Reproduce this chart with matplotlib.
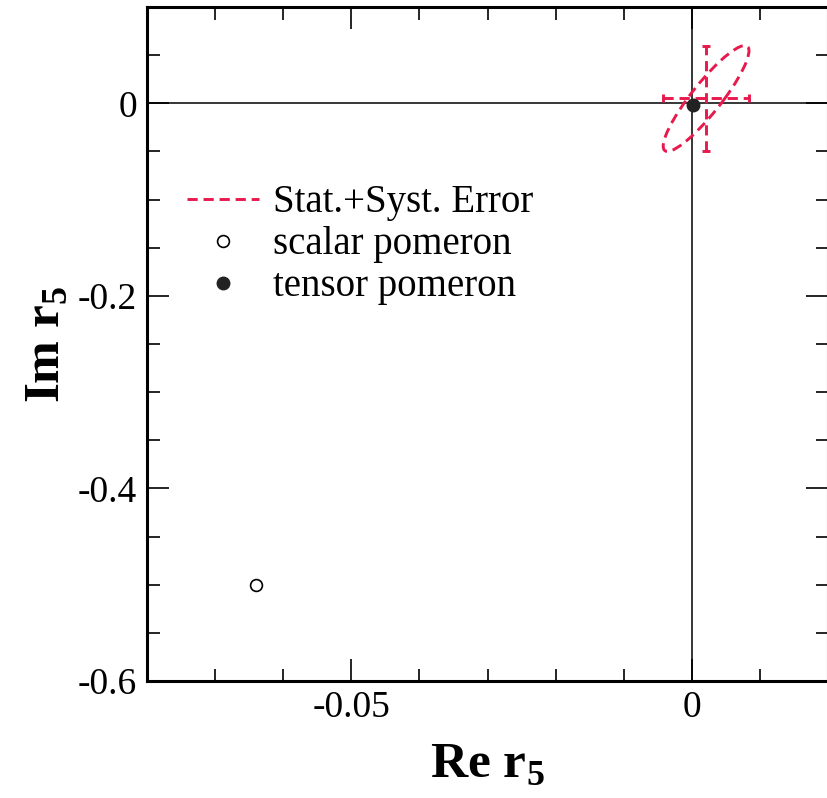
import matplotlib as mpl
mpl.use("agg")
import matplotlib.pyplot as plt
from matplotlib.patches import Ellipse
from matplotlib.lines import Line2D
import numpy as np

# values
scalar_pomeron = (-0.0640, -0.500)
tensor_pomeron = (0.0002, -0.002)
meas_center = (0.0021, 0.0050)
meas_sigma = (0.0063, 0.0550)
meas_rho = 0.90

x_major = [-0.05, 0.0]
x_labels = ["-0.05", "0"]
y_major = [0.0, -0.2, -0.4, -0.6]
y_labels = ["0", "-0.2", "-0.4", "-0.6"]

RED = "#e8194d"
DASH = (0, (3.5, 2.0))

plt.rcParams["font.family"] = ["Liberation Serif", "DejaVu Serif"]
plt.rcParams["mathtext.fontset"] = "custom"
plt.rcParams["mathtext.rm"] = "Liberation Serif"
plt.rcParams["mathtext.bf"] = "Liberation Serif:bold"
plt.rcParams["axes.unicode_minus"] = False

fig = plt.figure(figsize=(8.27, 7.98), dpi=100)
ax = fig.add_axes([147 / 827, 1 - 681 / 798, (828 - 147) / 827, (681 - 7) / 798])

ax.set_xlim(-0.08, 0.02)
ax.set_ylim(-0.6, 0.1)

# zero lines
ax.axhline(0, color="black", lw=1.1, zorder=1)
ax.axvline(0, color="black", lw=1.1, zorder=1)

# covariance ellipse of the measurement
sx, sy = meas_sigma
cov = np.array([[sx**2, meas_rho * sx * sy], [meas_rho * sx * sy, sy**2]])
vals, vecs = np.linalg.eigh(cov)
big = vecs[:, 1]
ang = np.degrees(np.arctan2(big[1], big[0]))
ell = Ellipse(meas_center, 2 * np.sqrt(vals[1]), 2 * np.sqrt(vals[0]), angle=ang,
              facecolor="none", edgecolor=RED, lw=2.1, linestyle=DASH, zorder=3)
ax.add_patch(ell)

eb = ax.errorbar([meas_center[0]], [meas_center[1]], xerr=[sx], yerr=[sy],
                 fmt="none", ecolor=RED, elinewidth=2.1, capsize=3, capthick=2.1, zorder=3)
for lc in eb[2]:
    lc.set_linestyle(DASH)

ax.plot([scalar_pomeron[0]], [scalar_pomeron[1]], "o", mfc="white", mec="black",
        ms=8.5, mew=1.2, zorder=4)
ax.plot([tensor_pomeron[0]], [tensor_pomeron[1]], "o", mfc="#222222", mec="#222222",
        ms=9, zorder=4)

handles = [
    Line2D([], [], color=RED, lw=2.1, linestyle=DASH),
    Line2D([], [], ls="none", marker="o", mfc="white", mec="black", ms=8.5, mew=1.2),
    Line2D([], [], ls="none", marker="o", mfc="#222222", mec="#222222", ms=9),
]
ax.legend(handles, ["Stat.+Syst. Error", "scalar pomeron", "tensor pomeron"],
          loc="upper left", bbox_to_anchor=(0.0587, 0.737), frameon=False,
          fontsize=28, handlelength=1.85, handletextpad=0.36, labelspacing=0.13,
          borderpad=0, borderaxespad=0)

ax.set_xticks(x_major)
ax.set_xticklabels(x_labels)
ax.set_yticks(y_major)
ax.set_yticklabels(y_labels)
ax.xaxis.set_minor_locator(mpl.ticker.MultipleLocator(0.01))
ax.yaxis.set_minor_locator(mpl.ticker.MultipleLocator(0.05))
ax.tick_params(which="both", direction="in", top=True, right=True, width=1.2, labelsize=27)
ax.tick_params(which="major", length=16, pad=7)
ax.tick_params(which="minor", length=9)
for s in ax.spines.values():
    s.set_linewidth(2.2)

ax.set_xlabel(r"Re r$_{\mathbf{5}}$", fontsize=37, fontweight="bold", labelpad=12)
ax.set_ylabel(r"Im r$_{\mathbf{5}}$", fontsize=37, fontweight="bold", labelpad=6)

fig.savefig("out.png", dpi=100)
